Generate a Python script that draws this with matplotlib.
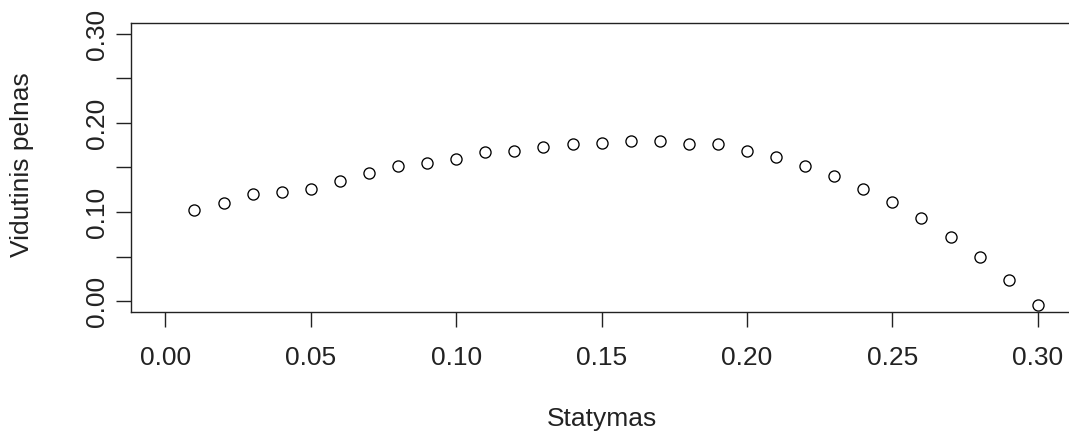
import matplotlib
matplotlib.use("Agg")
import matplotlib.pyplot as plt

statymas = [0.01, 0.02, 0.03, 0.04, 0.05, 0.06, 0.07, 0.08, 0.09, 0.10,
            0.11, 0.12, 0.13, 0.14, 0.15, 0.16, 0.17, 0.18, 0.19, 0.20,
            0.21, 0.22, 0.23, 0.24, 0.25, 0.26, 0.27, 0.28, 0.29, 0.30]
pelnas = [0.1026, 0.110, 0.1207, 0.1226, 0.126, 0.135, 0.144, 0.1515, 0.1545, 0.160,
          0.1673, 0.169, 0.173, 0.1763, 0.178, 0.1797, 0.1797, 0.1763, 0.1763, 0.169,
          0.162, 0.1515, 0.1406, 0.126, 0.1117, 0.0936, 0.0722, 0.0489, 0.0241, -0.0049]

xticks = [0.00, 0.05, 0.10, 0.15, 0.20, 0.25, 0.30]
xticklabels = ["0.00", "0.05", "0.10", "0.15", "0.20", "0.25", "0.30"]
yticks = [0.00, 0.05, 0.10, 0.15, 0.20, 0.25, 0.30]
yticklabels = ["0.00", "", "0.10", "", "0.20", "", "0.30"]
xlabel = "Statymas"
ylabel = "Vidutinis pelnas"

plt.rcParams['font.family'] = ['Liberation Sans', 'DejaVu Sans']

W, H = 1069, 436
fig = plt.figure(figsize=(W / 100, H / 100), dpi=100)
left, right, top, bottom = 130.5, 1072.7, 23.3, 311.7
ax = fig.add_axes([left / W, 1 - bottom / H, (right - left) / W, (bottom - top) / H])

ax.plot(statymas, pelnas, linestyle='none', marker='o', markersize=8.0,
        markerfacecolor='none', markeredgecolor='black', markeredgewidth=0.95)

ax.set_xlim(-0.012, 0.312)
ax.set_ylim(-0.012, 0.312)

for s in ax.spines.values():
    s.set_linewidth(1.0)
    s.set_color('#222222')

ax.set_xticks(xticks)
ax.set_xticklabels(xticklabels)
ax.set_yticks(yticks)
ax.set_yticklabels(yticklabels, rotation=90, va='center')
ax.tick_params(axis='both', length=10.8, width=1.0, color='#222222',
               labelsize=19, labelcolor='#222222')
ax.tick_params(axis='x', pad=14)
ax.tick_params(axis='y', pad=5)

fig.text(602 / W, 1 - 419 / H, xlabel, ha='center', va='center', fontsize=19, color='#222222')
fig.text(22 / W, 1 - 165 / H, ylabel, ha='center', va='center', rotation=90, fontsize=19, color='#222222')

fig.savefig("out.png", dpi=100)
